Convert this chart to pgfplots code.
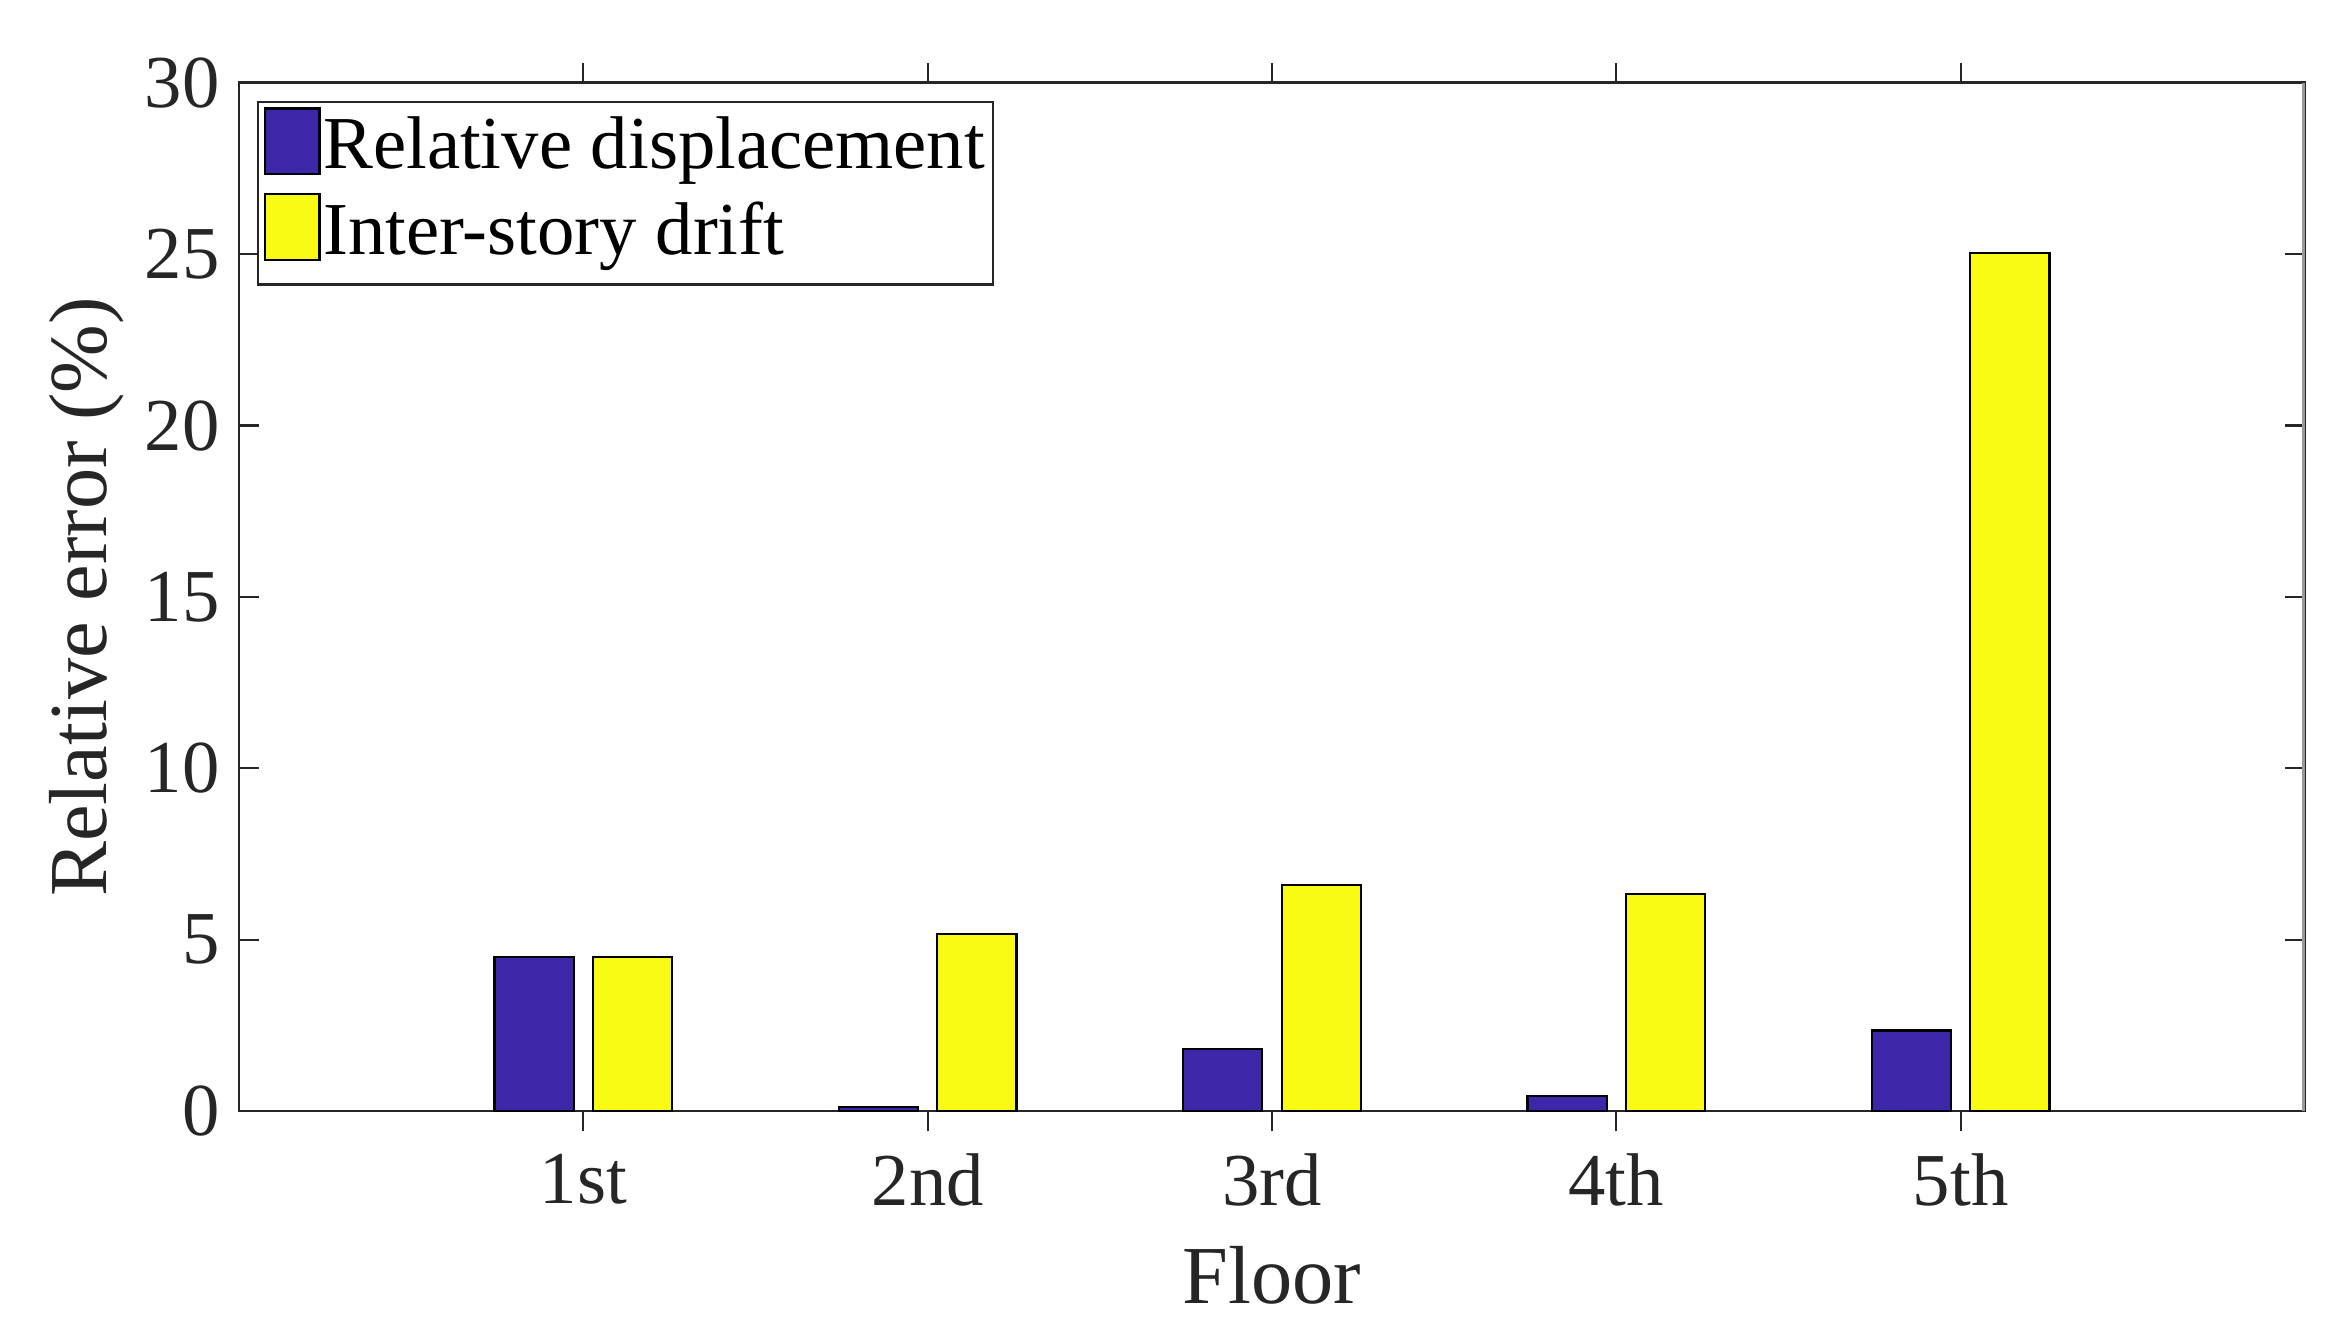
\documentclass[border=0pt]{standalone}
\usepackage{fontspec}
\setmainfont{Liberation Serif}
\usepackage{pgfplots}
\pgfplotsset{compat=1.18}
\definecolor{pblue}{HTML}{3E26A8}
\definecolor{pyel}{HTML}{F9FB15}
\definecolor{axgray}{HTML}{262626}

\begin{document}
\begin{tikzpicture}
% fixed frame so the margins match the original figure
\useasboundingbox (-1.53cm,-1.42cm) rectangle (13.47cm,7.11cm);
\begin{axis}[
  width=13.22cm, height=6.58cm, scale only axis,
  xmin=0, xmax=6, ymin=0, ymax=30,
  xtick={1,2,3,4,5}, xticklabels={1st,2nd,3rd,4th,5th},
  ytick={0,5,...,30},
  tick align=inside, major tick length=0.13cm,
  axis line style={axgray, line width=0.5pt}, tick style={axgray, line width=0.4pt},
  /pgf/number format/assume math mode=true,
  ticklabel style={font=\fontsize{13.6}{16}\selectfont, text=axgray},
  xticklabel style={yshift=-0.02cm},
  xlabel={Floor}, ylabel={Relative error (\%)},
  label style={font=\fontsize{15}{18}\selectfont, text=axgray},
  xlabel style={at={(axis description cs:0.5,-0.16)}, anchor=center},
  ylabel style={at={(axis description cs:-0.074,0.5)}, anchor=center},
  ybar, bar width=0.23,
  legend cell align=left,
  legend style={at={(0.0087,0.9826)}, anchor=north west, draw=axgray,
    font=\fontsize{13.6}{16}\selectfont, inner xsep=1pt, inner ysep=1pt,
    row sep=0pt, column sep=0pt,
    nodes={inner xsep=0.5pt, inner ysep=0pt, text height=11pt, text depth=4.5pt}},
  legend image code/.code={\draw[#1, draw=black] (0cm,-0.15cm) rectangle (0.35cm,0.27cm);},
]
\addplot[fill=pblue, draw=black, line width=0.4pt, bar shift=-0.143]
  coordinates {(1,4.5) (2,0.13) (3,1.82) (4,0.45) (5,2.35)};
\addplot[fill=pyel, draw=black, line width=0.4pt, bar shift=0.143]
  coordinates {(1,4.5) (2,5.17) (3,6.6) (4,6.33) (5,25.03)};
\legend{Relative displacement, Inter-story drift}
\draw[gray!80, line width=0.9pt] (rel axis cs:1,0) -- (rel axis cs:1,1);
\end{axis}
\end{tikzpicture}
\end{document}
